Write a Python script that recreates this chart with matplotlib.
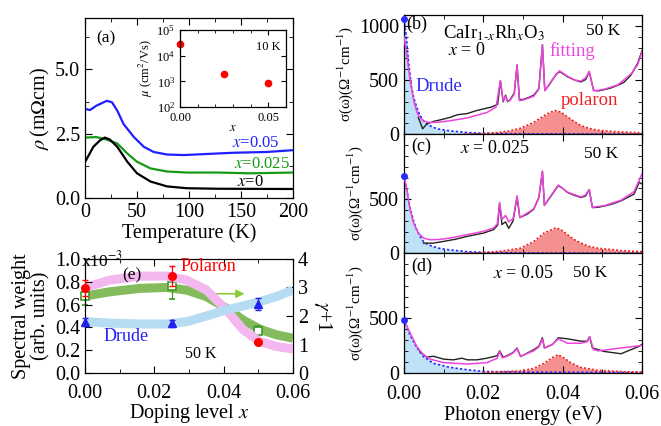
import matplotlib
matplotlib.use("Agg")
import matplotlib.pyplot as plt
from matplotlib.ticker import MultipleLocator, LogLocator, FormatStrFormatter
import numpy as np

plt.rcParams['font.family'] = ['Liberation Serif', 'DejaVu Serif']
plt.rcParams['mathtext.fontset'] = 'stix'

# ---------------- panel (a) data ----------------
T_blue = [1, 4.7, 11, 21, 26, 31, 37, 47, 56.6, 66, 79, 95, 111, 143, 175, 200]
rho_blue = [3.46, 3.42, 3.59, 3.78, 3.72, 3.4, 2.88, 2.37, 1.99, 1.79, 1.69, 1.67, 1.7, 1.76, 1.79, 1.86]
T_green = [1, 11, 21, 31, 40.7, 50, 63, 79, 98, 127, 159, 200]
rho_green = [2.35, 2.37, 2.27, 2.12, 1.73, 1.41, 1.15, 1.03, 0.99, 0.99, 0.96, 0.99]
T_black = [1, 8, 14.4, 19, 24, 31, 40.7, 50, 63, 79, 98, 127, 200]
rho_black = [1.47, 1.99, 2.24, 2.35, 2.27, 1.99, 1.41, 0.96, 0.64, 0.45, 0.38, 0.36, 0.35]

inset_x = [0.0, 0.025, 0.05]
inset_mu = [2.9e4, 1.9e3, 870]

# ---------------- panel (e) data ----------------
dop = [0.0, 0.025, 0.05]
pol_sw = [0.742, 0.85, 0.27]
pol_err = [0.07, 0.09, 0.0]
dru_sw = [0.45, 0.437, 0.605]
dru_err = [0.035, 0.03, 0.05]
gam = [2.7, 3.05, 1.48]
gam_err = [0.32, 0.44, 0.16]

band_x = [0.0, 0.0072, 0.0159, 0.0236, 0.0293, 0.035, 0.0408, 0.0456, 0.0504, 0.0552, 0.06]
band_pink = [0.75, 0.815, 0.85, 0.85, 0.815, 0.728, 0.553, 0.38, 0.276, 0.233, 0.21]
band_green = [2.70, 2.85, 2.97, 3.0, 2.91, 2.68, 2.27, 1.86, 1.54, 1.34, 1.22]
band_blue = [0.45, 0.437, 0.43, 0.43, 0.45, 0.5, 0.553, 0.588, 0.626, 0.67, 0.728]

# ---------------- panels (b)-(d) data ----------------
b_meas_E = [0.0036, 0.0047, 0.0057, 0.0074, 0.0095, 0.0116, 0.0135, 0.0159, 0.018, 0.0201, 0.022, 0.0236,
            0.0243, 0.0250, 0.0256, 0.0261, 0.0267, 0.0278, 0.0285, 0.0291, 0.0300, 0.0315, 0.0327, 0.0340,
            0.0349, 0.0355, 0.0365, 0.0374, 0.0385, 0.0393, 0.0402, 0.0412, 0.043, 0.0446, 0.0458, 0.0467,
            0.0478, 0.049, 0.0505, 0.052, 0.0539, 0.0555, 0.0572, 0.0589, 0.06]
b_meas_S = [155, 50, 93, 118, 135, 155, 180, 190, 215, 234, 250, 275,
            492, 300, 360, 300, 315, 380, 638, 320, 320, 340, 360, 420,
            825, 405, 450, 500, 560, 576, 555, 530, 500, 482, 505, 576,
            405, 400, 411, 425, 451, 480, 545, 654, 770]
b_fit_E = [0, 0.0008, 0.0016, 0.0025, 0.0033, 0.004, 0.005, 0.0066, 0.009, 0.0116, 0.0159, 0.0209, 0.0232,
           0.0243, 0.0250, 0.0256, 0.0261, 0.0267, 0.0278, 0.0285, 0.0291, 0.030, 0.0327, 0.034, 0.0349,
           0.0355, 0.0374, 0.0392, 0.0412, 0.043, 0.0446, 0.0458, 0.0467, 0.0478, 0.049, 0.0505, 0.0539,
           0.0572, 0.0589, 0.06]
b_fit_S = [900, 700, 480, 300, 200, 150, 120, 108, 112, 124, 150, 200, 250,
           495, 310, 350, 305, 310, 370, 640, 310, 315, 350, 415, 820,
           400, 505, 585, 535, 500, 490, 520, 580, 400, 405, 415, 455,
           555, 640, 760]
b_dru_E = [0, 0.0005, 0.0011, 0.0019, 0.0025, 0.0032, 0.004, 0.0049, 0.006, 0.0074, 0.009, 0.0116, 0.016, 0.02, 0.03, 0.06]
b_dru_S = [1065, 930, 685, 435, 330, 249, 175, 124, 90, 62, 45, 31, 15, 8, 3, 0]
b_pol_E = [0.015, 0.02, 0.0235, 0.0265, 0.0294, 0.0327, 0.0353, 0.037, 0.0382, 0.0395, 0.0412, 0.043, 0.0446, 0.0465, 0.0488, 0.0515, 0.0547, 0.06]
b_pol_S = [0, 5, 15, 30, 55, 109, 171, 205, 218, 205, 160, 115, 80, 55, 37, 28, 21, 12]

c_meas_E = [0.0049, 0.0074, 0.01, 0.013, 0.0159, 0.018, 0.0201, 0.0226, 0.0236, 0.0241, 0.0247, 0.0252,
            0.0256, 0.0264, 0.0275, 0.0285, 0.0292, 0.031, 0.0327, 0.034, 0.0349, 0.0354, 0.0365, 0.0374,
            0.0389, 0.04, 0.0412, 0.043, 0.0446, 0.0458, 0.0467, 0.0475, 0.049, 0.0505, 0.0525, 0.0547,
            0.058, 0.0593, 0.06]
c_meas_S = [94, 94, 110, 130, 156, 172, 187, 219, 260, 460, 265, 280,
            290, 230, 300, 520, 330, 360, 406, 515, 756, 443, 500, 547,
            625, 600, 562, 535, 515, 530, 587, 422, 425, 437, 455, 484,
            547, 656, 640]
c_fit_E = [0, 0.0007, 0.0015, 0.0024, 0.0036, 0.0049, 0.0066, 0.009, 0.0116, 0.0159, 0.0201, 0.0226, 0.0235,
           0.0241, 0.0247, 0.0256, 0.0264, 0.0275, 0.0285, 0.0292, 0.031, 0.0327, 0.034, 0.0349, 0.0354,
           0.0374, 0.0389, 0.0412, 0.0446, 0.0458, 0.0467, 0.0475, 0.0505, 0.0547, 0.058, 0.06]
c_fit_S = [718, 593, 406, 281, 187, 141, 125, 128, 141, 172, 203, 234, 270,
           469, 312, 350, 290, 320, 531, 330, 370, 410, 520, 760, 445,
           552, 630, 565, 520, 540, 590, 425, 440, 490, 570, 734]
c_dru_E = [0, 0.0007, 0.0015, 0.0024, 0.0032, 0.004, 0.0049, 0.006, 0.0074, 0.009, 0.0116, 0.016, 0.02, 0.03, 0.06]
c_dru_S = [718, 590, 420, 300, 218, 160, 109, 80, 62, 45, 31, 15, 8, 3, 0]
c_pol_E = [0.015, 0.02, 0.025, 0.0294, 0.0327, 0.0353, 0.0382, 0.0395, 0.0412, 0.043, 0.0446, 0.0465, 0.0488, 0.0547, 0.06]
c_pol_S = [0, 6, 22, 47, 109, 187, 234, 220, 172, 125, 94, 65, 47, 25, 15]

d_meas_E = [0.004, 0.0057, 0.0074, 0.01, 0.0125, 0.0146, 0.016, 0.0184, 0.0209, 0.0235, 0.0241, 0.025,
            0.026, 0.0275, 0.0285, 0.0294, 0.0327, 0.034, 0.0349, 0.0354, 0.0374, 0.0389, 0.0412, 0.0446,
            0.0462, 0.0468, 0.0475, 0.0505, 0.0547, 0.0593, 0.06]
d_meas_S = [194, 141, 150, 123, 117, 132, 117, 117, 132, 155, 200, 141,
            155, 185, 226, 147, 210, 242, 321, 226, 258, 321, 311, 289,
            289, 330, 226, 194, 173, 242, 260]
d_fit_E = [0, 0.0015, 0.0032, 0.0049, 0.0066, 0.01, 0.0159, 0.0209, 0.0235, 0.0241, 0.0248, 0.026, 0.0275,
           0.0285, 0.0294, 0.0327, 0.034, 0.0349, 0.0354, 0.0374, 0.0389, 0.0412, 0.0446, 0.0462, 0.0468,
           0.0478, 0.049, 0.06]
d_fit_S = [487, 368, 242, 163, 123, 91, 78, 91, 132, 194, 135, 150, 180,
           220, 150, 200, 235, 310, 225, 260, 311, 270, 270, 285, 330,
           210, 200, 250]
d_dru_E = [0, 0.0015, 0.0032, 0.0049, 0.0074, 0.0116, 0.016, 0.02, 0.03, 0.06]
d_dru_S = [487, 347, 230, 147, 85, 47, 25, 10, 3, 0]
d_pol_E = [0.02, 0.0294, 0.0327, 0.0353, 0.0375, 0.0389, 0.0405, 0.0422, 0.0446, 0.0488, 0.055, 0.06]
d_pol_S = [0, 15, 38, 85, 140, 164, 130, 85, 47, 20, 8, 4]

# ---------------- figure ----------------
W, H = 661, 426
fig = plt.figure(figsize=(W / 100, H / 100), dpi=100)


def rect(l, t, r, b):
    return [l / W, 1 - b / H, (r - l) / W, (b - t) / H]


def style(ax, fs=14):
    ax.tick_params(which='both', direction='in', top=True, right=True, labelsize=fs)
    ax.tick_params(which='major', length=5, width=0.8)
    ax.tick_params(which='minor', length=3, width=0.6)
    for s in ax.spines.values():
        s.set_linewidth(0.9)


# (a)
axa = fig.add_axes(rect(85, 18, 293, 198))
axa.plot(T_blue, rho_blue, color='#1f1fff', lw=1.6)
axa.plot(T_green, rho_green, color='#159a15', lw=1.6)
axa.plot(T_black, rho_black, color='black', lw=1.6)
axa.set_xlim(0, 200)
axa.set_ylim(0, 7)
axa.xaxis.set_major_locator(MultipleLocator(50))
axa.xaxis.set_minor_locator(MultipleLocator(25))
axa.yaxis.set_major_locator(MultipleLocator(2.5))
axa.yaxis.set_minor_locator(MultipleLocator(1.25))
axa.yaxis.set_major_formatter(FormatStrFormatter('%.1f'))
style(axa, 14.5)
axa.set_xlabel('Temperature (K)', fontsize=14.5, labelpad=1)
axa.set_ylabel(r'$\rho\,$(m$\Omega$cm)', fontsize=14.5, labelpad=2)
axa.text(0.055, 0.93, '(a)', transform=axa.transAxes, fontsize=12.5, va='top')
axa.text(164, 2.12, r'$x$=0.05', color='#1f1fff', fontsize=12, ha='center', va='center')
axa.text(170, 1.33, r'$x$=0.025', color='#159a15', fontsize=12, ha='center', va='center')
axa.text(159, 0.64, r'$x$=0', color='black', fontsize=12, ha='center', va='center')

# inset
axi = fig.add_axes(rect(180, 30, 286, 107))
axi.plot(inset_x, inset_mu, 'o', color='red', ms=4.5, clip_on=False)
axi.set_yscale('log')
axi.set_ylim(1e2, 1e5)
axi.set_xlim(0, 0.06)
axi.xaxis.set_major_locator(MultipleLocator(0.05))
axi.xaxis.set_minor_locator(MultipleLocator(0.01))
axi.xaxis.set_major_formatter(FormatStrFormatter('%.2f'))
axi.yaxis.set_major_locator(LogLocator(base=10, numticks=10))
axi.yaxis.set_minor_locator(matplotlib.ticker.NullLocator())
style(axi, 9)
axi.tick_params(which='major', length=3.5)
axi.tick_params(which='minor', length=2.5)
axi.set_xlabel(r'$x$', fontsize=9, labelpad=-1.5)
axi.set_ylabel(r'$\mu$ (cm$^2$/Vs)', fontsize=9, labelpad=1)
axi.text(0.95, 0.78, '10 K', transform=axi.transAxes, fontsize=9, ha='right', va='center')

# (e)
axe = fig.add_axes(rect(85, 259, 293, 373))
axe2 = axe.twinx()
axe.set_zorder(axe2.get_zorder() + 1)
axe.patch.set_visible(False)
axe.plot(band_x, band_pink, color='#f4b8f0', lw=6.5, solid_capstyle='butt', zorder=1)
axe.plot(band_x, band_blue, color='#b5dcf3', lw=6.5, solid_capstyle='butt', zorder=1)
axe2.plot(band_x, band_green, color='#84bb5c', lw=6.5, solid_capstyle='butt', zorder=1)
axe2.set_ylim(0, 4)
axe2.yaxis.set_major_locator(MultipleLocator(1))
axe2.tick_params(direction='in', labelsize=14.5, length=5)
axe2.set_ylabel(r'$\gamma$+1', fontsize=14.5, rotation=270, labelpad=19)
axe2.errorbar(dop, gam, yerr=gam_err, fmt='s', mfc='white', mec='#3f9a2a', ecolor='#3f9a2a',
              ms=6, mew=1.2, capsize=2, elinewidth=0.9, clip_on=False, zorder=3)
axe2.annotate('', xy=(0.0468, 2.78), xytext=(0.036, 2.78),
              arrowprops=dict(arrowstyle='-|>', color='#8ccc3c', lw=1.2, mutation_scale=12))
axe.errorbar(dop, pol_sw, yerr=pol_err, fmt='o', color='red', ms=5.5, capsize=2, elinewidth=0.9,
             clip_on=False, zorder=4)
axe.errorbar(dop, dru_sw, yerr=dru_err, fmt='^', color='#2222ee', ms=5.5, capsize=2, elinewidth=0.9,
             clip_on=False, zorder=4)
axe.set_xlim(0, 0.06)
axe.set_ylim(0, 1.0)
axe.xaxis.set_major_locator(MultipleLocator(0.02))
axe.xaxis.set_minor_locator(MultipleLocator(0.01))
axe.yaxis.set_major_locator(MultipleLocator(0.2))
axe.xaxis.set_major_formatter(FormatStrFormatter('%.2f'))
axe.yaxis.set_major_formatter(FormatStrFormatter('%.1f'))
axe.tick_params(direction='in', top=True, labelsize=14.5, length=5)
axe.tick_params(axis='x', pad=8)
axe.tick_params(which='minor', direction='in', top=True, length=3)
axe.set_xlabel(r'Doping level $x$', fontsize=14.5, labelpad=-1)
axe.set_ylabel('Spectral weight\n(arb. units)', fontsize=14.5, labelpad=3, linespacing=1.0)
axe.text(0.0108, 0.86, '(e)', fontsize=12.5, ha='left', va='center')
axe.text(0.0356, 0.93, 'Polaron', color='red', fontsize=13, ha='center', va='center')
axe.text(0.0118, 0.32, 'Drude', color='#2222ee', fontsize=13, ha='center', va='center')
axe.text(0.0334, 0.17, '50 K', fontsize=11.5, ha='center', va='center')
fig.text(81 / W, 1 - 266 / H, r'x10$^{-3}$', fontsize=12.5, ha='left', va='baseline')

# (b)-(d)
tops = [15, 134.2, 253.3]
bot_list = [134.2, 253.3, 372.5]
panels = [
    (b_meas_E, b_meas_S, b_fit_E, b_fit_S, b_dru_E, b_dru_S, b_pol_E, b_pol_S),
    (c_meas_E, c_meas_S, c_fit_E, c_fit_S, c_dru_E, c_dru_S, c_pol_E, c_pol_S),
    (d_meas_E, d_meas_S, d_fit_E, d_fit_S, d_dru_E, d_dru_S, d_pol_E, d_pol_S),
]
axes_r = []
for i, (mE, mS, fE, fS, dE, dS, pE, pS) in enumerate(panels):
    ax = fig.add_axes(rect(404, tops[i], 642, bot_list[i]))
    axes_r.append(ax)
    ax.fill_between(dE, dS, 0, color='#bfe2f7', lw=0, zorder=1)
    ax.fill_between(pE, pS, 0, color='#f49090', lw=0, zorder=1)
    ax.plot(dE, dS, color='#2a2aff', lw=1.2, ls=(0, (1.5, 1.2)), zorder=2)
    ax.plot(pE, pS, color='#ee2020', lw=1.2, ls=(0, (1.2, 1.2)), zorder=2)
    ax.plot(mE, mS, color='#222222', lw=1.0, zorder=3)
    ax.plot(fE, fS, color='#ee44dd', lw=1.1, zorder=4)
    ax.plot([dE[0]], [dS[0]], 'o', color='#2a2aff', ms=4, clip_on=False, zorder=5)
    ax.set_xlim(0, 0.06)
    ax.set_ylim(0, 1100)
    ax.xaxis.set_major_locator(MultipleLocator(0.02))
    ax.xaxis.set_minor_locator(MultipleLocator(0.01))
    ax.yaxis.set_major_locator(MultipleLocator(500))
    ax.yaxis.set_minor_locator(MultipleLocator(100))
    style(ax, 14.5)
    if i == 0:
        ax.set_yticks([0, 500, 1000])
    else:
        ax.set_yticks([0, 500])
    if i < 2:
        ax.tick_params(labelbottom=False)
    else:
        ax.xaxis.set_major_formatter(FormatStrFormatter('%.2f'))
        ax.tick_params(axis='x', pad=9)
        ax.set_xlabel('Photon energy (eV)', fontsize=14.5, labelpad=1)
    ax.set_ylabel('σ(ω)(Ω$^{-1}$cm$^{-1}$)', fontsize=10.8, labelpad=3)

axb, axc, axd = axes_r
axb.text(0.0006, 1010, '(b)', fontsize=13, va='center')
axb.text(0.0098, 937, r'CaIr$_{1\text{-}x}$Rh$_x$O$_3$', fontsize=13.5, va='center')
axb.text(0.0111, 770, r'$x$ = 0', fontsize=13, va='center')
axb.text(0.0503, 950, '50 K', fontsize=12.5, ha='center', va='center')
axb.text(0.0425, 763, 'fitting', color='#ee44dd', fontsize=13.5, ha='center', va='center')
axb.text(0.0088, 440, 'Drude', color='#2a2aff', fontsize=13.5, ha='center', va='center')
axb.text(0.0467, 311, 'polaron', color='#ee2020', fontsize=13.5, ha='center', va='center')

axc.text(0.0019, 984, '(c)', fontsize=13, va='center')
axc.text(0.0141, 968, r'$x$ = 0.025', fontsize=13, va='center')
axc.text(0.0498, 921, '50 K', fontsize=12.5, ha='center', va='center')

axd.text(0.0019, 977, '(d)', fontsize=13, va='center')
axd.text(0.0224, 914, r'$x$ = 0.05', fontsize=13, va='center')
axd.text(0.0469, 914, '50 K', fontsize=12.5, ha='center', va='center')

fig.savefig('out.png', dpi=100)
